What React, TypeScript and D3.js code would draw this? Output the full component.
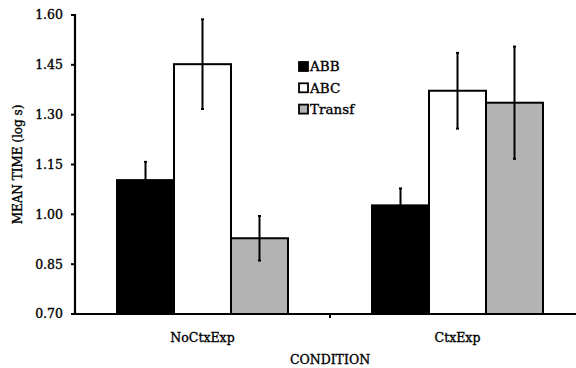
import * as d3 from 'd3'

const CONDITIONS = ['NoCtxExp', 'CtxExp']
const SERIES = ['ABB', 'ABC', 'Transf']
const COLORS = ['#000000', '#ffffff', '#b3b3b3']
const MEANS = [
  [1.103, 1.452, 0.928],
  [1.027, 1.372, 1.336],
]
const ERRORS = [
  [0.055, 0.135, 0.067],
  [0.051, 0.114, 0.169],
]
const Y_TICKS = [0.7, 0.85, 1.0, 1.15, 1.3, 1.45, 1.6]

const W = 576
const H = 368
const FONT = '"DejaVu Serif", serif'

export default function App() {
  const left = 75
  const top = 15
  const bottom = 314
  const x0 = d3.scaleBand().domain(CONDITIONS).range([left, left + 510]).paddingInner(0).paddingOuter(0)
  const x1 = d3.scaleBand().domain(SERIES).range([0, x0.bandwidth()]).paddingOuter(0.737).paddingInner(0)
  const y = d3.scaleLinear().domain([0.7, 1.6]).range([bottom, top])
  const txt = { fill: '#000', stroke: '#000', strokeWidth: 0.35 }

  return (
    <svg width={W} height={H} style={{ position: 'absolute', left: 0, top: 0, background: '#fff' }} fontFamily={FONT}>
      {/* bars */}
      {CONDITIONS.map((c, ci) => (
        <g key={c} transform={`translate(${x0(c)},0)`}>
          {SERIES.map((s, si) => (
            <rect key={s}
              x={x1(s)} y={y(MEANS[ci][si])}
              width={x1.bandwidth()} height={bottom - y(MEANS[ci][si])}
              fill={COLORS[si]} stroke="#000" strokeWidth={2} />
          ))}
          {SERIES.map((s, si) => {
            const cx = (x1(s) as number) + x1.bandwidth() / 2
            const hi = y(MEANS[ci][si] + ERRORS[ci][si])
            const lo = y(MEANS[ci][si] - ERRORS[ci][si])
            return (
              <g key={s + 'e'} stroke="#000">
                <line x1={cx} x2={cx} y1={hi} y2={lo} strokeWidth={2} />
                <line x1={cx - 1.5} x2={cx + 1.5} y1={hi} y2={hi} strokeWidth={2} />
                <line x1={cx - 1.5} x2={cx + 1.5} y1={lo} y2={lo} strokeWidth={2} />
              </g>
            )
          })}
        </g>
      ))}

      {/* y axis */}
      <line x1={left} x2={left} y1={top - 1} y2={bottom + 1} stroke="#000" strokeWidth={2.2} />
      {Y_TICKS.map(t => (
        <g key={t}>
          <line x1={left - 4} x2={left} y1={y(t)} y2={y(t)} stroke="#000" strokeWidth={2} />
          <text x={left - 12} y={y(t)} dy="0.35em" textAnchor="end" fontSize={12.5} {...txt}>
            {d3.format('.2f')(t)}
          </text>
        </g>
      ))}

      {/* x axis */}
      <line x1={left} x2={W} y1={bottom} y2={bottom} stroke="#000" strokeWidth={2.2} />
      <line x1={x0('CtxExp')} x2={x0('CtxExp')} y1={bottom} y2={bottom + 4} stroke="#000" strokeWidth={2} />
      {CONDITIONS.map(c => (
        <text key={c} x={(x0(c) as number) + x0.bandwidth() / 2} y={342} textAnchor="middle" fontSize={12.5} {...txt}>
          {c}
        </text>
      ))}
      <text x={330} y={364} textAnchor="middle" fontSize={12.5} {...txt}>CONDITION</text>
      <text transform={`translate(22,${(top + bottom) / 2}) rotate(-90)`} textAnchor="middle" fontSize={12} {...txt}>
        MEAN TIME (log s)
      </text>

      {/* legend */}
      {SERIES.map((s, i) => (
        <g key={s} transform={`translate(299,${66.5 + i * 21.3})`}>
          <rect x={0} y={-4.5} width={9} height={9} fill={COLORS[i]} stroke="#000" strokeWidth={1.8} />
          <text x={11} y={0} dy="0.35em" fontSize={13.5} {...txt}>{s}</text>
        </g>
      ))}
    </svg>
  )
}
